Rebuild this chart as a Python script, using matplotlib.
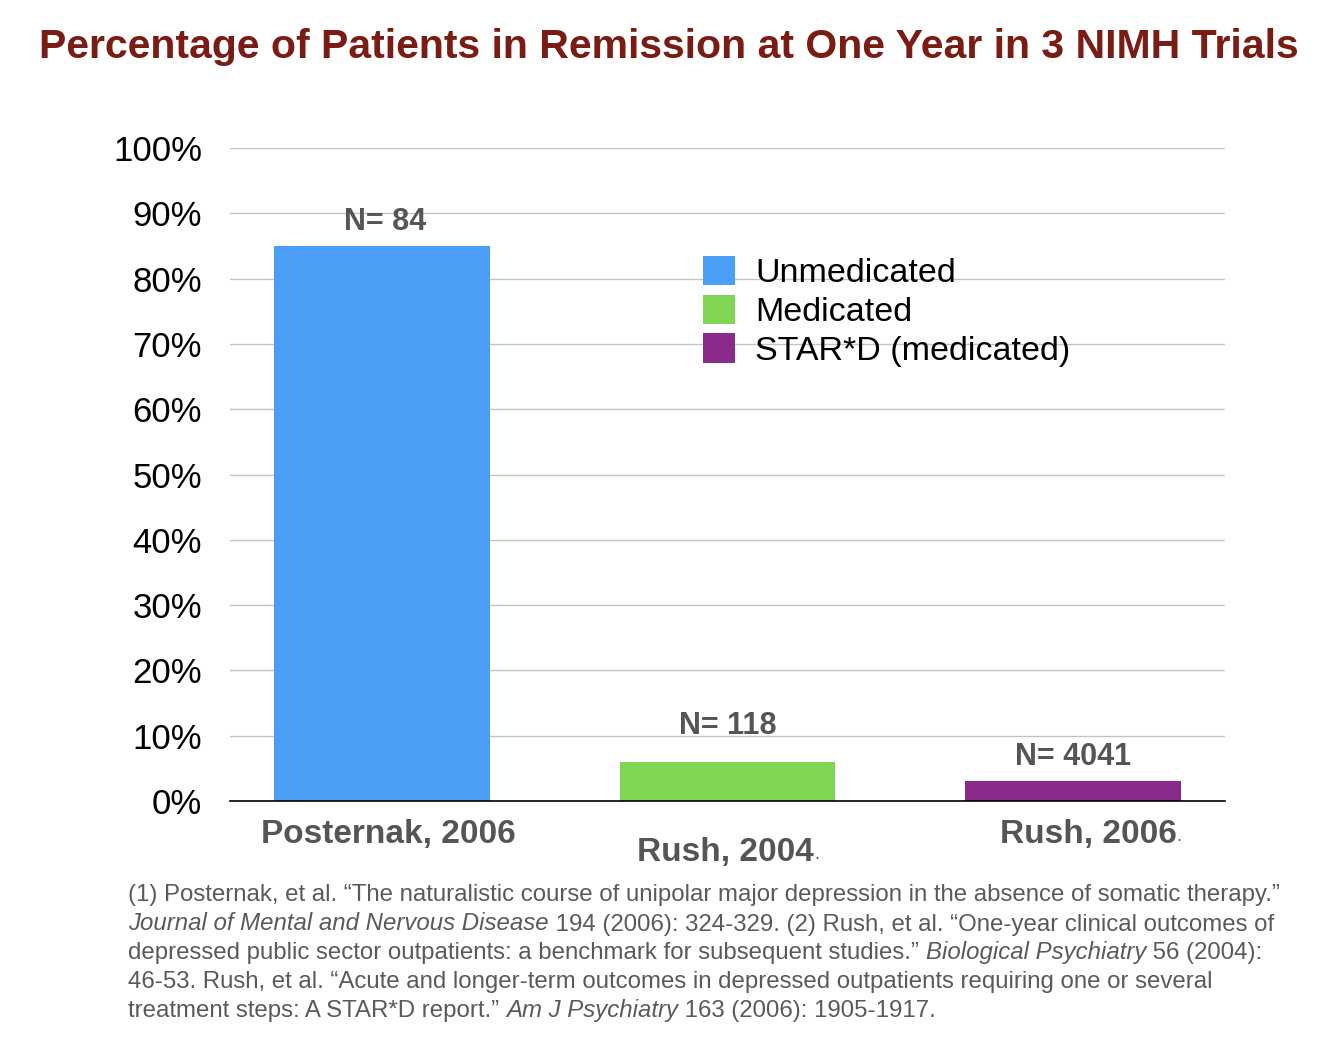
import matplotlib
matplotlib.use("Agg")
import matplotlib.pyplot as plt
from matplotlib.patches import Patch
from matplotlib.transforms import offset_copy

# ---- data ----
studies = ["Posternak, 2006", "Rush, 2004", "Rush, 2006"]
study_suffix = ["", ".", "."]
remission_pct = [85, 6, 3]
n_labels = ["N= 84", "N= 118", "N= 4041"]
series_names = ["Unmedicated", "Medicated", "STAR*D (medicated)"]
colors = ["#4A9EF5", "#80D654", "#8A2A8A"]
yticks = [0, 10, 20, 30, 40, 50, 60, 70, 80, 90, 100]
ytick_labels = [f"{v}%" for v in yticks]
title = "Percentage of Patients in Remission at One Year in 3 NIMH Trials"
footnote_lines = [
    [("(1) Posternak, et al. \u201cThe naturalistic course of unipolar major depression in the absence of somatic therapy.\u201d", "normal")],
    [("Journal of Mental and Nervous Disease", "italic"), (" 194 (2006): 324-329. (2) Rush, et al. \u201cOne-year clinical outcomes of", "normal")],
    [("depressed public sector outpatients: a benchmark for subsequent studies.\u201d ", "normal"), ("Biological Psychiatry", "italic"), (" 56 (2004):", "normal")],
    [("46-53. Rush, et al. \u201cAcute and longer-term outcomes in depressed outpatients requiring one or several", "normal")],
    [("treatment steps: A STAR*D report.\u201d ", "normal"), ("Am J Psychiatry", "italic"), (" 163 (2006): 1905-1917.", "normal")],
]

plt.rcParams['font.family'] = ['Liberation Sans', 'DejaVu Sans']

W, H = 1336, 1047
PT = 72 / 100  # points per pixel
fig = plt.figure(figsize=(W / 100, H / 100), dpi=100)
ax = fig.add_axes([230 / W, 1 - 801 / H, (1225 - 230) / W, (801 - 148) / H])

x = list(range(len(studies)))
bars = ax.bar(x, remission_pct, width=0.624, color=colors, zorder=2)
ax.set_xlim(-0.44, 2.44)
ax.set_ylim(0, 100)
ax.set_yticks(yticks)
ax.set_yticklabels(ytick_labels, fontsize=25, color="black")
ax.tick_params(axis="y", length=0, pad=28 * PT)
ax.tick_params(axis="x", length=0)
ax.set_xticks([])
ax.grid(axis="y", color="#c4c4c4", linewidth=1, zorder=0)
ax.set_axisbelow(True)
for s in ["top", "right", "left"]:
    ax.spines[s].set_visible(False)
ax.spines["bottom"].set_color("black")
ax.spines["bottom"].set_linewidth(1.2)
ax.spines["bottom"].set_zorder(3)

# N labels above bars (pixel gaps from bar top to label centre)
n_gap_px = [24, 36, 24]
for xi, v, lab, g in zip(x, remission_pct, n_labels, n_gap_px):
    ax.annotate(lab, xy=(xi, v), xytext=(3 * PT if xi == 0 else 0, g * PT),
                textcoords="offset points",
                ha="center", va="center", fontsize=22, fontweight="bold",
                color="#555555")

# category labels
label_y = [-5.2, -7.9, -5.2]
label_dx_px = [6, -2, 15]
for xi, name, suf, ly, dx in zip(x, studies, study_suffix, label_y, label_dx_px):
    tr = offset_copy(ax.transData, fig=fig, x=dx * PT, y=0, units="points")
    t = ax.text(xi, ly, name, ha="center", va="center", fontsize=24,
                fontweight="bold", color="#555555", clip_on=False, transform=tr)
    if suf:
        ax.annotate(suf, xy=(1, 0.18), xycoords=t, ha="left", va="bottom",
                    fontsize=13, color="#555555", annotation_clip=False)

# legend
handles = [Patch(facecolor=c, edgecolor="none") for c in colors]
ax.legend(handles, series_names, loc="upper left",
          bbox_to_anchor=((715 - 230) / 995 - 0.012, (801 - 256) / 653),
          frameon=False, fontsize=24.5, handlelength=0.94, handleheight=0.94,
          handletextpad=0.6, labelspacing=0.16, borderaxespad=0, borderpad=0)

# title
fig.text(0.5 * (38 + 1300) / W, 1 - 47 / H, title, ha="center", va="center",
         fontsize=29.5, fontweight="bold", color="#7A1C14")

# footnote with mixed italics
fs = 17.3
y0 = 895
for i, segs in enumerate(footnote_lines):
    yy = 1 - (y0 + 29 * i) / H
    prev = None
    for txt, style in segs:
        if prev is None:
            prev = fig.text(128 / W, yy, txt, ha="left", va="center",
                            fontsize=fs, style=style, color="#5a5a5a")
        else:
            prev = ax.annotate(txt, xy=(1, 0), xycoords=prev, ha="left", va="bottom",
                               fontsize=fs, style=style, color="#5a5a5a",
                               annotation_clip=False)

fig.savefig("out.png", dpi=100)
